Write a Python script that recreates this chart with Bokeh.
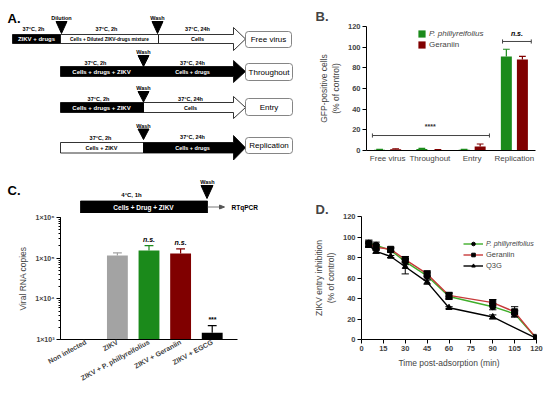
import numpy as np
from bokeh.plotting import figure
from bokeh.models import (Range1d, FactorRange, Title, Legend, LegendItem,
                          FixedTicker, CustomJSTickFormatter, ColumnDataSource)
from bokeh.transform import dodge
from bokeh.layouts import row, column
from bokeh.embed import file_html
from bokeh.resources import INLINE
from bokeh.core.properties import value

FONT = "Liberation Sans"
GREEN = "#1b8a1b"
DARKRED = "#800000"
GREY = "#a3a3a3"
LGREEN = "#3fae2a"
LRED = "#c73a3a"

# ---------------- data ----------------
# Panel B
b_groups = ["Free virus", "Throughout", "Entry", "Replication"]
b_phil = [0.8, 1.5, 0.8, 91]
b_phil_err = [0.3, 0.5, 0.3, 7]
b_ger = [1.2, 0.5, 3.8, 88]
b_ger_err = [0.5, 0.3, 2.5, 3]
b_yticks = [0, 20, 40, 60, 80, 100, 120]

# Panel C
c_cats = ["Non infected", "ZIKV", "ZIKV + P. phillyreifolius", "ZIKV + Geraniin", "ZIKV + EGCG"]
c_vals = [None, 1.16e5, 1.54e5, 1.30e5, 1.46e3]
c_upper = [None, 1.35e5, 2.04e5, 1.69e5, 2.2e3]
c_sig = ["", "", "n.s.", "n.s.", "***"]
c_colors = [None, GREY, GREEN, DARKRED, "black"]

# Panel D
d_time = [5, 10, 20, 30, 45, 60, 90, 105, 120]
d_phil = [94, 92, 87, 76, 62, 42, 32, 25, 1]
d_phil_err = [3, 3, 2, 3, 3, 3, 3, 3, 2]
d_ger = [93, 90, 88, 78, 64, 43, 36, 27, 1]
d_ger_err = [3, 3, 2, 3, 3, 3, 3, 5, 2]
d_q3g_time = [5, 10, 20, 30, 45, 60, 90, 120]
d_q3g = [92, 86, 81, 71, 56, 31, 22, 1]
d_q3g_err = [2, 2, 1, 7, 2, 1, 2, 4]
d_xticks = [0, 15, 30, 45, 60, 75, 90, 105, 120]
d_yticks = [0, 20, 40, 60, 80, 100, 120]


def T(p, x, y, s, size=5.5, color="black", style="bold", align="center", baseline="middle"):
    p.text(x=[x], y=[y], text=[s], text_font=value(FONT), text_font_size=f"{size}px",
           text_color=color, text_font_style=style, text_align=align, text_baseline=baseline)


def box(p, l, r, t, b, fill, line="black", lw=0.8, radius=0):
    p.quad(left=[l], right=[r], top=[t], bottom=[b], fill_color=fill,
           line_color=line, line_width=lw, border_radius=radius)


def arrow(p, x0, xh, xt, yt, yb, ht, hb, fill):
    yc = (yt + yb) / 2
    p.patch([x0, xh, xh, xt, xh, xh, x0], [yt, yt, ht, yc, hb, yb, yb],
            fill_color=fill, line_color="black", line_width=0.8)


def tri(p, xc, yt, yb, hw):
    p.patch([xc - hw, xc + hw, xc], [yt, yt, yb], fill_color="black", line_color="black")


def style_axes(p, tick_size="7.5px", label_size="8.5px"):
    for ax in p.axis:
        ax.axis_line_color = "black"
        ax.axis_line_width = 1
        ax.major_tick_line_color = "black"
        ax.major_tick_out = 4
        ax.major_tick_in = 0
        ax.minor_tick_line_color = None
        ax.major_label_text_font = FONT
        ax.major_label_text_font_size = tick_size
        ax.major_label_text_font_style = "bold"
        ax.axis_label_text_font = FONT
        ax.axis_label_text_font_size = label_size
        ax.axis_label_text_font_style = "normal"
        ax.major_label_standoff = 2
        ax.axis_label_standoff = 4
    p.grid.visible = False
    p.outline_line_color = None


def legend(items, loc, italic=False, gw=9, size="8px"):
    return Legend(items=items, location=loc, glyph_width=gw, glyph_height=9, label_height=9,
                  label_text_font=FONT, label_text_font_size=size,
                  label_text_font_style="italic" if italic else "normal",
                  label_standoff=3, padding=0, margin=0, spacing=2,
                  border_line_color=None, background_fill_alpha=0)


def panel_title(p, text, offset, standoff):
    p.add_layout(Title(text=text, align="left", offset=offset, standoff=standoff,
                       vertical_align="bottom", text_font=FONT, text_font_size="13px",
                       text_font_style="bold"), "above")


COMMON = dict(output_backend="svg", toolbar_location=None, frame_align=False)

# ---------------- Panel A (+ panel C header), drawn in pixel coordinates ----------------
pa = figure(width=298, height=213, x_range=Range1d(0, 298), y_range=Range1d(213, 0),
            min_border=0, x_axis_location=None, y_axis_location=None, **COMMON)
pa.grid.visible = False
pa.outline_line_color = None

T(pa, 7, 17.5, "A.", size=13, align="left", baseline="alphabetic")

# Row 1: Free virus
T(pa, 33, 28.5, "37°C, 2h")
box(pa, 12, 60, 34, 43, "black")
T(pa, 36, 38.7, "ZIKV + drugs", size=6, color="white")
box(pa, 60, 158, 34, 43, "white")
T(pa, 109, 38.7, "Cells + Diluted ZIKV-drugs mixture", size=4.8)
T(pa, 106, 28.5, "37°C, 2h")
T(pa, 61, 17.5, "Dilution")
tri(pa, 61, 21, 33, 5.5)
T(pa, 157, 17, "Wash")
tri(pa, 157, 21, 33, 5.5)
arrow(pa, 158, 233, 245, 34, 43, 27, 50, "white")
T(pa, 197, 28.5, "37°C, 24h")
T(pa, 197, 38.7, "Cells")
box(pa, 245, 291, 31, 47, "white", line="#666666", radius=3)
T(pa, 268, 39.3, "Free virus", size=8, style="normal")

# Row 2: Throughout
T(pa, 143, 51, "Wash")
tri(pa, 143, 55, 66, 5.5)
T(pa, 95, 62, "37°C, 2h")
T(pa, 192, 62, "37°C, 24h")
arrow(pa, 60, 233, 245, 66, 76, 60, 82, "black")
T(pa, 101, 71.2, "Cells + drugs + ZIKV", size=6, color="white")
T(pa, 192, 71.2, "Cells + drugs", color="white")
box(pa, 245, 292, 63, 80, "white", line="#666666", radius=3)
T(pa, 268.5, 71.7, "Throughout", size=8, style="normal")

# Row 3: Entry
T(pa, 143, 87, "Wash")
tri(pa, 143, 91, 101.5, 5.5)
T(pa, 98, 98.5, "37°C, 2h")
T(pa, 190, 98, "37°C, 24h")
arrow(pa, 143, 233, 245, 102, 112, 96, 118, "white")
box(pa, 60, 143, 102, 112, "black")
T(pa, 101, 107.2, "Cells + drugs + ZIKV", size=6, color="white")
T(pa, 190, 107.5, "Cells")
box(pa, 245, 292, 98, 115, "white", line="#666666", radius=3)
T(pa, 268.5, 106.7, "Entry", size=8, style="normal")

# Row 4: Replication
T(pa, 143, 125, "Wash")
tri(pa, 143, 128.5, 139, 5.5)
T(pa, 100, 137.5, "37°C, 2h")
T(pa, 192, 136.5, "37°C, 24h")
box(pa, 60, 143, 142, 152.5, "white")
arrow(pa, 143, 233, 245, 142, 152.5, 135, 159.5, "black")
T(pa, 101, 147.5, "Cells + ZIKV")
T(pa, 192, 147.5, "Cells + drugs", color="white")
box(pa, 245, 292, 137, 153, "white", line="#666666", radius=3)
T(pa, 268.5, 145.2, "Replication", size=8, style="normal")

# Panel C header
T(pa, 7, 190, "C.", size=13, align="left", baseline="alphabetic")
T(pa, 207, 181, "Wash")
tri(pa, 206.5, 185, 198, 6)
T(pa, 131, 194, "4°C, 1h", size=6)
box(pa, 80, 207, 200.5, 212.5, "black")
T(pa, 143, 206.7, "Cells + Drug + ZIKV", size=6.5, color="white")
pa.segment(x0=[207], y0=[206.5], x1=[223], y1=[206.5], line_color="#555555", line_width=0.8)
pa.patch([219, 224, 219], [204.5, 206.5, 208.5], fill_color="#555555", line_color="#555555")
T(pa, 231, 207, "RTqPCR", size=6.5, align="left")

# ---------------- Panel B ----------------
pb = figure(width=252, height=170, x_range=FactorRange(*b_groups), y_range=Range1d(0, 120),
            min_border_left=68, min_border_right=15, min_border_top=26, min_border_bottom=20,
            **COMMON)
bsrc = ColumnDataSource(dict(
    g=b_groups, phil=b_phil, ger=b_ger,
    phil_hi=[v + e for v, e in zip(b_phil, b_phil_err)],
    ger_hi=[v + e for v, e in zip(b_ger, b_ger_err)]))
OFF, BW, CAP = 0.19, 0.26, 0.08
r_phil = pb.vbar(x=dodge("g", -OFF, range=pb.x_range), top="phil", width=BW, source=bsrc,
                 fill_color=GREEN, line_color=None)
r_ger = pb.vbar(x=dodge("g", OFF, range=pb.x_range), top="ger", width=BW, source=bsrc,
                fill_color=DARKRED, line_color=None)
for off, col, hi, base_c in ((-OFF, "phil", "phil_hi", GREEN), (OFF, "ger", "ger_hi", DARKRED)):
    pb.segment(x0=dodge("g", off, range=pb.x_range), x1=dodge("g", off, range=pb.x_range),
               y0=col, y1=hi, source=bsrc, line_color=base_c, line_width=1.2)
    pb.segment(x0=dodge("g", off - CAP, range=pb.x_range), x1=dodge("g", off + CAP, range=pb.x_range),
               y0=hi, y1=hi, source=bsrc, line_color=base_c, line_width=1.2)
# significance brackets
pb.segment(x0=[0.14, 0.14, 2.91], x1=[2.91, 0.14, 2.91], y0=[14.5, 12.5, 12.5], y1=[14.5, 16.5, 16.5],
           line_color="#444444", line_width=1)
pb.text(x=[1.51], y=[23], text=["****"], text_font=value(FONT), text_font_size="7px",
        text_font_style="bold", text_align="center", text_baseline="middle", text_color="#333333")
pb.segment(x0=[3.22, 3.22, 3.9], x1=[3.9, 3.22, 3.9], y0=[105.5, 103.5, 103.5], y1=[105.5, 107.5, 107.5],
           line_color="#444444", line_width=1)
pb.text(x=[3.56], y=[113.5], text=["n.s."], text_font=value(FONT), text_font_size="7px",
        text_font_style="bold italic", text_align="center", text_baseline="middle")
style_axes(pb)
pb.yaxis.ticker = FixedTicker(ticks=b_yticks)
pb.yaxis.axis_label = "GFP-positive cells\n(% of control)"
pb.xaxis.major_tick_out = 0
pb.xaxis.major_label_text_font_style = "normal"
pb.xaxis.major_label_text_font_size = "8px"
pb.xaxis.major_label_standoff = 3
pb.add_layout(legend([LegendItem(label="P. phillyreifolius", renderers=[r_phil])], (51, 112), italic=True))
pb.add_layout(legend([LegendItem(label="Geraniin", renderers=[r_ger])], (51, 101)))
panel_title(pb, "B.", -51, 6)

# ---------------- Panel C ----------------
pc = figure(width=298, height=182,
            x_range=FactorRange(*c_cats, range_padding=0.3, range_padding_units="absolute"),
            y_range=Range1d(1e3, 1e6), y_axis_type="log",
            min_border_left=60, min_border_right=61, min_border_top=4, min_border_bottom=56,
            **COMMON)
idx = [i for i, v in enumerate(c_vals) if v is not None]
csrc = ColumnDataSource(dict(
    c=[c_cats[i] for i in idx], v=[c_vals[i] for i in idx], hi=[c_upper[i] for i in idx],
    col=[c_colors[i] for i in idx], sig=[c_sig[i] for i in idx],
    sy=[c_upper[i] * 1.45 for i in idx]))
pc.vbar(x="c", top="v", bottom=1e3, width=0.66, source=csrc, fill_color="col", line_color=None)
pc.segment(x0="c", x1="c", y0="v", y1="hi", source=csrc, line_color="col", line_width=1.2)
pc.segment(x0=dodge("c", -0.14, range=pc.x_range), x1=dodge("c", 0.14, range=pc.x_range),
           y0="hi", y1="hi", source=csrc, line_color="col", line_width=1.2)
pc.text(x="c", y="sy", text="sig", source=csrc, text_font=value(FONT), text_font_size="7px",
        text_font_style="bold italic", text_align="center", text_baseline="middle")
style_axes(pc, tick_size="7px")
pc.yaxis.formatter = CustomJSTickFormatter(code="""
const e = Math.round(Math.log10(tick));
const sup = {3: '\u00b3', 4: '\u2074', 5: '\u2075', 6: '\u2076'};
return '1\u00d710' + (sup[e] || e);
""")
pc.yaxis.minor_tick_line_color = "black"
pc.yaxis.minor_tick_out = 2
pc.yaxis.minor_tick_in = 0
pc.yaxis.axis_label = "Viral RNA copies"
pc.xaxis.major_tick_out = 0
pc.xaxis.major_label_orientation = 0.5
pc.xaxis.major_label_text_font_size = "7px"

# ---------------- Panel D ----------------
pd_ = figure(width=252, height=225, x_range=Range1d(0, 120), y_range=Range1d(0, 120),
             min_border_left=63, min_border_right=14, min_border_top=46, min_border_bottom=56,
             **COMMON)


def series(t, v, e, color, marker):
    ln = pd_.line(t, v, line_color=color, line_width=1.4)
    pd_.segment(x0=t, x1=t, y0=[a - b for a, b in zip(v, e)], y1=[a + b for a, b in zip(v, e)],
                line_color="black", line_width=1)
    for sgn in (-1, 1):
        yy = [a + sgn * b for a, b in zip(v, e)]
        pd_.segment(x0=[x - 2.5 for x in t], x1=[x + 2.5 for x in t], y0=yy, y1=yy,
                    line_color="black", line_width=1)
    sc = pd_.scatter(t, v, marker=marker, size=6, fill_color="black", line_color="black")
    return ln, sc


l1, s1 = series(d_time, d_phil, d_phil_err, LGREEN, "circle")
l2, s2 = series(d_time, d_ger, d_ger_err, LRED, "square")
l3, s3 = series(d_q3g_time, d_q3g, d_q3g_err, "black", "triangle")
style_axes(pd_)
pd_.xaxis.ticker = FixedTicker(ticks=d_xticks)
pd_.yaxis.ticker = FixedTicker(ticks=d_yticks)
pd_.xaxis.axis_label = "Time post-adsorption (min)"
pd_.yaxis.axis_label = "ZIKV entry inhibition\n(% of control)"
pd_.add_layout(legend([LegendItem(label="P. phillyreifolius", renderers=[l1, s1])], (102, 91),
                      italic=True, gw=20, size="7px"))
pd_.add_layout(legend([LegendItem(label="Geraniin", renderers=[l2, s2]),
                       LegendItem(label="Q3G", renderers=[l3, s3])], (102, 69), gw=20, size="7.5px"))
panel_title(pd_, "D.", -46, 0)

layout = row(column(pa, pc), column(pb, pd_))
open("out.html", "w").write(file_html(layout, INLINE))
